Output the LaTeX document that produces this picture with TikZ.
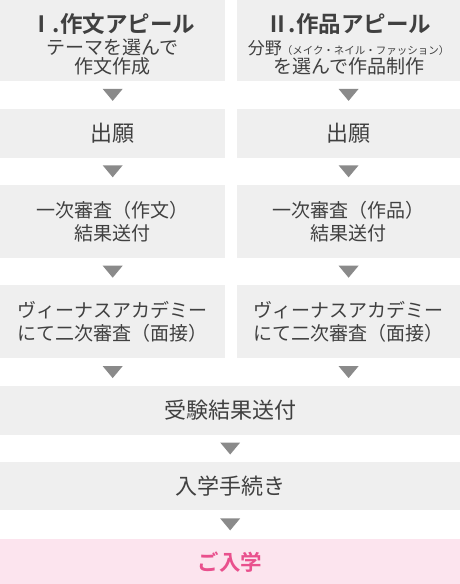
\documentclass[tikz,border=0pt]{standalone}
\usepackage{fontspec}
\setmainfont{Noto Sans CJK JP}[BoldFont={Noto Sans CJK JP Bold}]
\usepackage{xcolor}
\definecolor{boxgray}{HTML}{EFEFEF}
\definecolor{arrowgray}{HTML}{8A8A8A}
\definecolor{textgray}{HTML}{404040}
\definecolor{entrypink}{HTML}{FCE4EE}
\definecolor{entrytext}{HTML}{E9508D}
\usetikzlibrary{positioning}
\tikzset{
    stepbox/.style={fill=boxgray, text=textgray, inner sep=0pt, align=center,
        minimum width=225pt, minimum height=73pt, font=\fontsize{19}{23}\selectfont},
    onebox/.style={stepbox, minimum height=49pt, font=\fontsize{22}{25}\selectfont},
    widebox/.style={onebox, minimum width=460pt, minimum height=48pt},
    downtri/.pic={\fill[arrowgray] (-10pt,6pt) -- (10pt,6pt) -- (0pt,-6pt) -- cycle;}
}

\begin{document}
\begin{tikzpicture}
            \useasboundingbox (0,0) rectangle (460pt,-584pt);
            % two courses
            \node[stepbox, minimum height=81pt, anchor=north west, font=\fontsize{19}{18.5}\selectfont] (essay1) at (0,0)
                {\rule{0pt}{26pt}{\fontsize{22.5}{27}\selectfont\bfseries Ⅰ.作文アピール}\\[4pt]テーマを選んで\\作文作成};
            \node[stepbox, minimum height=81pt, minimum width=224pt, right=11pt of essay1, font=\fontsize{19}{18.5}\selectfont] (work1)
                {\rule{0pt}{26pt}{\fontsize{22.5}{27}\selectfont\bfseries Ⅱ.作品アピール}\\[4pt]{\fontsize{17}{19}\selectfont 分野}{\fontsize{10.5}{19}\selectfont（メイク・ネイル・ファッション）}\\を選んで作品制作};
            \node[onebox, below=27pt of essay1] (essay2) {出願};
            \node[onebox, minimum width=224pt, below=27pt of work1] (work2) {出願};
            \node[stepbox, below=27pt of essay2] (essay3) {一次審査（作文）\\結果送付};
            \node[stepbox, minimum width=224pt, below=27pt of work2] (work3) {一次審査（作品）\\結果送付};
            \node[stepbox, below=27pt of essay3] (essay4) {ヴィーナスアカデミー\\にて二次審査（面接）};
            \node[stepbox, minimum width=224pt, below=27pt of work3] (work4) {ヴィーナスアカデミー\\にて二次審査（面接）};
            % common steps
            \node[widebox, minimum height=49pt, below right=27pt and 0pt of essay4.south west] (result) {受験結果送付};
            \node[widebox, below=27pt of result] (enrol) {入学手続き};
            \node[widebox, below=28pt of enrol, fill=entrypink, text=entrytext, font=\fontsize{21.5}{25}\selectfont\bfseries] (entry) {ご入学};
            \foreach \a/\b in {essay1/essay2, essay2/essay3, essay3/essay4, essay4/result,
                work1/work2, work2/work3, work3/work4, work4/result, result/enrol, enrol/entry}
            {
                \path (\a.south) -- coordinate[midway] (tip) (\a.south |- \b.north);
                \pic at (tip) {downtri};
            }
        \end{tikzpicture}
\end{document}
